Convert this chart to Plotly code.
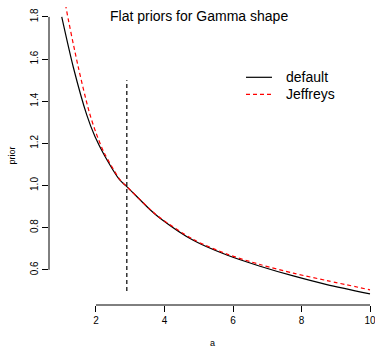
import plotly.graph_objects as go

# Data
default_a = [1.0, 1.34, 1.73, 1.97, 2.24, 2.70, 2.90, 3.58, 3.87, 4.84, 5.82, 6.79, 7.76, 8.74, 10.0]
default_v = [1.80, 1.56, 1.335, 1.232, 1.145, 1.025, 0.995, 0.885, 0.845, 0.740, 0.670, 0.617, 0.571, 0.530, 0.486]

jeff_a = [1.0, 1.12, 1.48, 1.80, 2.0, 2.24, 2.70, 2.90, 3.58, 3.87, 4.84, 5.82, 6.79, 7.76, 8.74, 10.0]
jeff_v = [1.99, 1.85, 1.564, 1.35, 1.25, 1.155, 1.028, 0.995, 0.887, 0.847, 0.744, 0.675, 0.625, 0.584, 0.549, 0.505]

vline_x = [2.9, 2.9]
vline_y = [0.5, 1.5]

x_ticks = [2, 4, 6, 8, 10]
y_ticks = [0.6, 0.8, 1.0, 1.2, 1.4, 1.6, 1.8]
series_names = ["default", "Jeffreys"]
title_text = "Flat priors for Gamma shape"
x_title = "a"
y_title = "prior"

FONT = "Liberation Sans, Arial, Helvetica, sans-serif"

fig = go.Figure()
fig.add_trace(go.Scatter(x=default_a, y=default_v, mode="lines",
                         line=dict(color="black", width=1.2, shape="spline", smoothing=0.8),
                         showlegend=False, hoverinfo="skip"))
fig.add_trace(go.Scatter(x=jeff_a, y=jeff_v, mode="lines",
                         line=dict(color="red", width=1.2, dash="4px,3px", shape="spline", smoothing=0.8),
                         showlegend=False, hoverinfo="skip"))
fig.add_trace(go.Scatter(x=vline_x, y=vline_y, mode="lines",
                         line=dict(color="black", width=1.2, dash="4px,3px"),
                         showlegend=False, hoverinfo="skip"))

# axis lines spanning only tick range (R style)
fig.add_shape(type="line", xref="x", yref="paper", x0=x_ticks[0], x1=x_ticks[-1], y0=0, y1=0,
              line=dict(color="black", width=1))
fig.add_shape(type="line", xref="paper", yref="y", x0=0, x1=0, y0=y_ticks[0], y1=y_ticks[-1],
              line=dict(color="black", width=1))

# legend drawn manually (no box)
leg_y = [0.7641, 0.7070]
leg_styles = [dict(color="black", width=1.2), dict(color="red", width=1.2, dash="4px,3px")]
for name, ly, st in zip(series_names, leg_y, leg_styles):
    fig.add_shape(type="line", xref="paper", yref="paper", x0=0.6043, x1=0.684, y0=ly, y1=ly, line=st)
    fig.add_annotation(text=name, xref="paper", yref="paper", x=0.7209, y=ly, xanchor="left",
                       yanchor="middle", showarrow=False, font=dict(family=FONT, size=14, color="black"))

fig.add_annotation(text=title_text, xref="paper", yref="paper", x=0.4586, y=0.9698,
                   xanchor="center", yanchor="middle", showarrow=False,
                   font=dict(family=FONT, size=14, color="black"))
fig.add_annotation(text=y_title, xref="paper", yref="paper", x=-0.115, y=0.5, textangle=-90,
                   xanchor="center", yanchor="middle", showarrow=False,
                   font=dict(family=FONT, size=9, color="black"))
fig.add_annotation(text=x_title, xref="paper", yref="paper", x=0.5, y=-0.103,
                   xanchor="center", yanchor="top", showarrow=False,
                   font=dict(family=FONT, size=9, color="black"))

fig.update_layout(
    width=375, height=349,
    margin=dict(l=49, r=0, t=7, b=44),
    paper_bgcolor="white", plot_bgcolor="white",
    font=dict(family=FONT, color="black"),
    hovermode=False,
    xaxis=dict(range=[0.628, 10.146], tickvals=x_ticks, ticktext=[str(v) for v in x_ticks],
               showgrid=False, zeroline=False, showline=False, ticks="outside", ticklen=6,
               tickwidth=1, tickcolor="black", tickfont=dict(size=10, family=FONT),
               automargin=False, ticklabeloverflow="allow"),
    yaxis=dict(range=[0.433, 1.847], tickvals=y_ticks, ticktext=[f"{v:.1f}" for v in y_ticks],
               showgrid=False, zeroline=False, showline=False, ticks="outside", ticklen=6,
               tickwidth=1, tickcolor="black", tickangle=-90, tickfont=dict(size=10, family=FONT),
               automargin=False, ticklabeloverflow="allow"),
)

fig.write_html("out.html", config={"displayModeBar": False},
               post_script="document.body.style.margin='0';document.body.style.overflow='hidden';")
